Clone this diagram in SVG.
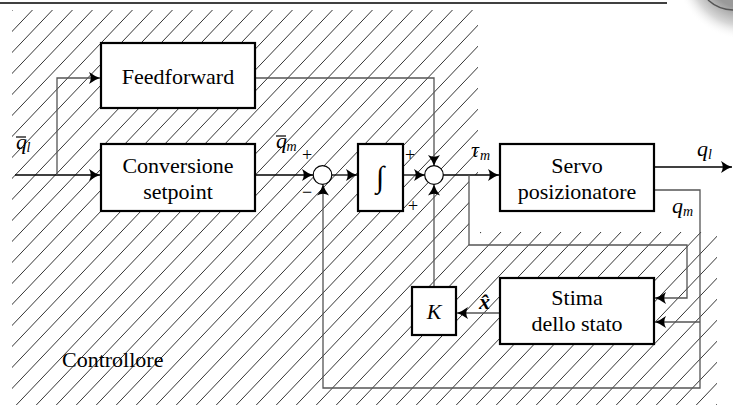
<svg xmlns="http://www.w3.org/2000/svg" width="733" height="405" viewBox="0 0 733 405">
<style>
.box{fill:#fff;stroke:#000;stroke-width:2.2}
.sum{fill:#fff;stroke:#000;stroke-width:1.2}
text{font-family:'Liberation Serif',serif;fill:#000}
.lbl{font-size:22px}
.mid{text-anchor:middle}
.var{font-style:italic;font-size:22px}
.sub{font-style:italic;font-size:14px}
.sign{font-size:18px}
.main{fill:none;stroke:#000;stroke-width:1.3;marker-end:url(#ah)}
.fb{fill:none;stroke:#555;stroke-width:1.3;marker-end:url(#ah)}
.bar{fill:none;stroke:#000;stroke-width:1.2}
</style>
<defs>
<pattern id="hatch" patternUnits="userSpaceOnUse" x="2" y="0" width="20" height="21">
<path d="M-20,21 L0,0 M0,21 L20,0 M20,21 L40,0" stroke="#000" stroke-width="0.8"/>
</pattern>
<marker id="ah" markerUnits="userSpaceOnUse" markerWidth="14" markerHeight="14" viewBox="-12 -7 14 14" refX="0" refY="0" orient="auto">
<path d="M0,0 Q-5,-1.5 -11,-6 Q-7.5,0 -11,6 Q-5,1.5 0,0Z" fill="#000"/>
</marker>
<radialGradient id="logo" cx="0.5" cy="0.5" r="0.5">
<stop offset="0.55" stop-color="#9a9a9a"/>
<stop offset="0.8" stop-color="#d8d8d8"/>
<stop offset="1" stop-color="#fff" stop-opacity="0"/>
</radialGradient>
</defs>

<g id="background">
<polygon points="12,10 478,10 478,175 469,175 469,245 480,245 480,232 717,232 717,405 12,405" fill="url(#hatch)"/>
<line x1="0" y1="3" x2="667" y2="3" stroke="#000" stroke-width="1.3"/>
<circle cx="745" cy="-30" r="70" fill="url(#logo)"/>
<path d="M708,0 A38,38 0 0 0 733,10" fill="none" stroke="#555" stroke-width="1.5"/>
</g>

<g id="connectors">
<path class="main" d="M15,175 H100"/>
<path class="main" d="M255,175 H313"/>
<path class="main" d="M332,175 H357"/>
<path class="main" d="M403,175 H425"/>
<path class="main" d="M443,175 H499"/>
<path class="main" d="M654,167 H732"/>
<path class="fb" d="M57,175 V78 H100"/>
<path class="fb" d="M255,78 H434 V166"/>
<path class="fb" d="M469,175 V245 H687 V298 H655"/>
<path class="fb" d="M654,190 H700 V388 H323 V184.5"/>
<path class="fb" d="M700,322 H655"/>
<path class="fb" d="M500,313 H457"/>
<path class="fb" d="M434,287 V184.5"/>
</g>

<g id="feedforward">
<rect class="box" x="101" y="43" width="154" height="65"/>
<text class="lbl mid" x="178" y="84">Feedforward</text>
</g>
<g id="conversione">
<rect class="box" x="101" y="144" width="154" height="67"/>
<text class="lbl mid" x="178" y="173">Conversione</text>
<text class="lbl mid" x="178" y="199">setpoint</text>
</g>
<g id="sum1">
<circle class="sum" cx="322.5" cy="175" r="9.3"/>
<text class="sign" x="302" y="161">+</text>
<text class="sign" x="302" y="198">−</text>
</g>
<g id="integrator">
<rect class="box" x="358" y="144" width="45" height="67"/>
<text class="mid" x="380" y="187" style="font-size:30px">∫</text>
</g>
<g id="sum2">
<circle class="sum" cx="434" cy="175" r="9.3"/>
<text class="sign" x="405" y="161">+</text>
<text class="sign" x="408" y="212">+</text>
</g>
<g id="servo">
<rect class="box" x="500" y="144" width="154" height="67"/>
<text class="lbl mid" x="577" y="173">Servo</text>
<text class="lbl mid" x="577" y="199">posizionatore</text>
</g>
<g id="stima">
<rect class="box" x="500" y="278" width="154" height="66"/>
<text class="lbl mid" x="577" y="305">Stima</text>
<text class="lbl mid" x="577" y="331">dello stato</text>
</g>
<g id="gain">
<rect class="box" x="412" y="287" width="44" height="48"/>
<text class="var mid" x="434" y="319">K</text>
</g>

<g id="labels">
<text class="var" x="16" y="149">q</text><line class="bar" x1="16" y1="137" x2="26" y2="137"/><text class="sub" x="26.5" y="152">l</text>
<text class="var" x="276" y="148">q</text><line class="bar" x1="276" y1="136" x2="286" y2="136"/><text class="sub" x="286.5" y="151">m</text>
<text class="var" x="471" y="157">τ</text><text class="sub" x="480" y="160">m</text>
<text class="var" x="697" y="156">q</text><text class="sub" x="708" y="159">l</text>
<text class="var" x="672" y="213">q</text><text class="sub" x="683" y="216">m</text>
<text class="var" x="479" y="309" style="font-weight:bold">x̂</text>
<text class="lbl" x="62" y="367">Controllore</text>
</g>
</svg>
